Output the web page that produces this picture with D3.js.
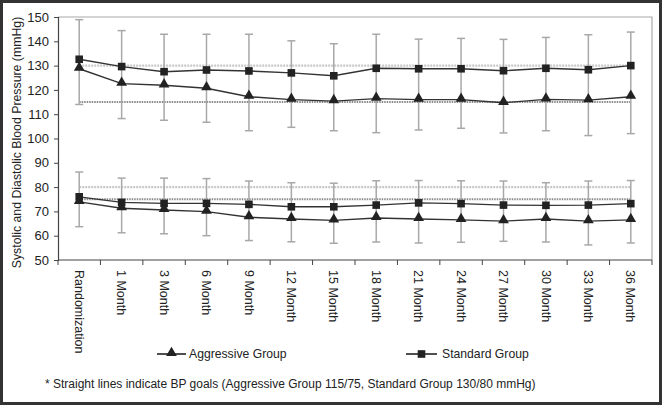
<!DOCTYPE html>
<html><head><meta charset="utf-8">
<script src="https://cdn.jsdelivr.net/npm/d3@7"></script>
<style>body{margin:0;background:#fff}svg{display:block;font-family:"Liberation Sans",Arial,sans-serif}</style>
</head><body>
<svg id="c" width="662" height="405"></svg>
<script>
const categories = ["Randomization","1 Month","3 Month","6 Month","9 Month","12 Month","15 Month","18 Month","21 Month","24 Month","27 Month","30 Month","33 Month","36 Month"];
const yTicks = [50,60,70,80,90,100,110,120,130,140,150];
// Systolic
const stdSys      = [132.6,129.6,127.5,128.2,127.8,127.0,125.8,128.9,128.7,128.7,127.9,128.9,128.3,130.0];
const stdSysUpper = [148.9,144.4,142.9,142.9,142.9,140.2,139.0,142.9,140.9,141.2,140.8,141.6,142.7,143.8];
const aggSys      = [128.7,122.6,121.9,120.7,117.2,116.0,115.4,116.4,116.0,116.0,114.7,116.1,115.8,117.2];
const aggSysLower = [114.0,108.2,107.5,106.7,103.2,104.6,103.2,102.4,103.5,104.2,102.3,103.2,101.2,102.0];
// Diastolic
const stdDia      = [76.0,73.7,73.3,73.3,72.9,71.9,71.9,72.6,73.5,73.2,72.6,72.5,72.6,73.2];
const stdDiaUpper = [86.2,83.7,83.7,83.5,82.5,81.8,81.6,82.6,82.7,82.6,82.5,81.8,82.5,82.7];
const aggDia      = [73.9,71.3,70.6,69.9,67.6,66.9,66.3,67.3,66.9,66.5,66.0,66.9,66.0,66.5];
const aggDiaLower = [63.7,61.2,60.8,60.0,58.0,57.5,56.9,57.4,57.0,57.3,57.7,57.4,56.2,57.0];
// BP goals
const goalsStandard = [130,80];
const goalsAggressive = [115,75];
const legendLabels = ["Aggressive Group","Standard Group"];
const yTitle = "Systolic and Diastolic Blood Pressure (mmHg)";
const footnote = "* Straight lines indicate BP goals (Aggressive Group 115/75, Standard Group 130/80 mmHg)";

const svg = d3.select("#c");
const L=58, R=652, T=17, B=260;
// outer frame
svg.append("rect").attr("x",1.5).attr("y",1.5).attr("width",659).attr("height",402)
  .attr("fill","#fff").attr("stroke","#333").attr("stroke-width",3);

const x = d3.scaleBand().domain(categories).range([L,R]).padding(0);
const cx = d => x(d)+x.bandwidth()/2;
const y = d3.scaleLinear().domain([50,150]).range([B,T]);

// plot border (top/right light)
svg.append("path").attr("d",`M${L},${T}H${R}V${B}`).attr("fill","none").attr("stroke","#aaa").attr("stroke-width",1.2);

// goal lines
const gx0 = cx(categories[0]), gx1 = cx(categories[categories.length-1]);
goalsStandard.forEach(v=>{
  svg.append("line").attr("x1",gx0).attr("x2",gx1).attr("y1",y(v)).attr("y2",y(v))
    .attr("stroke","#c8c8c8").attr("stroke-width",2.2).attr("stroke-dasharray","2,1");
});
goalsAggressive.forEach(v=>{
  svg.append("line").attr("x1",gx0).attr("x2",gx1).attr("y1",y(v)).attr("y2",y(v))
    .attr("stroke","#8a8a8a").attr("stroke-width",2).attr("stroke-dasharray","1.5,1");
});

// error bars
function errBars(lower, upper){
  const g = svg.append("g").attr("stroke","#a8a8a8").attr("stroke-width",1.5);
  categories.forEach((c,i)=>{
    const xx = cx(c);
    g.append("line").attr("x1",xx).attr("x2",xx).attr("y1",y(lower[i])).attr("y2",y(upper[i]));
    g.append("line").attr("x1",xx-4).attr("x2",xx+4).attr("y1",y(lower[i])).attr("y2",y(lower[i]));
    g.append("line").attr("x1",xx-4).attr("x2",xx+4).attr("y1",y(upper[i])).attr("y2",y(upper[i]));
  });
}
errBars(aggSysLower, stdSysUpper);
errBars(aggDiaLower, stdDiaUpper);

// series
const line = d3.line().x((d,i)=>cx(categories[i])).y(d=>y(d));
const tri = d3.symbol().type(d3.symbolTriangle).size(50);
const sq = d3.symbol().type(d3.symbolSquare).size(58);
function series(vals, sym, dy){
  svg.append("path").datum(vals).attr("d",line).attr("fill","none").attr("stroke","#333").attr("stroke-width",1.4);
  svg.append("g").selectAll("path").data(vals).join("path")
    .attr("d",sym).attr("fill","#222")
    .attr("transform",(d,i)=>`translate(${cx(categories[i])},${y(d)+dy})`);
}
series(stdSys, sq, 0);
series(aggSys, tri, -1);
series(stdDia, sq, 0);
series(aggDia, tri, -1);

// y axis
const ya = svg.append("g").attr("transform",`translate(${L},0)`)
  .call(d3.axisLeft(y).tickValues(yTicks).tickSize(4).tickPadding(5));
ya.select(".domain").attr("stroke","#444").attr("stroke-width",1.2);
ya.selectAll(".tick line").attr("stroke","#444");
ya.selectAll("text").attr("font-size",13).attr("fill","#222").attr("font-family","Liberation Sans, Arial, sans-serif");

// x axis: ticks at band boundaries
const xa = svg.append("g").attr("transform",`translate(0,${B})`);
xa.append("line").attr("x1",L).attr("x2",R).attr("stroke","#444").attr("stroke-width",1.2);
d3.range(categories.length+1).forEach(k=>{
  const xx = L + k*x.bandwidth();
  xa.append("line").attr("x1",xx).attr("x2",xx).attr("y1",0).attr("y2",5).attr("stroke","#444");
});
xa.selectAll("text.cat").data(categories).join("text").attr("class","cat")
  .attr("transform",d=>`translate(${cx(d)},10) rotate(90)`)
  .attr("dy","0.35em").attr("font-size",12.5).attr("fill","#222").text(d=>d);

// y title
svg.append("text").attr("transform",`translate(17,${(T+B)/2+4}) rotate(-90)`)
  .attr("text-anchor","middle").attr("dy","0.35em").attr("font-size",12.3).attr("fill","#222").text(yTitle);

// legend
const lg = [{x0:157,x1:186,sym:tri,dy:-1,tx:189},{x0:406,x1:437,sym:sq,dy:0,tx:442}];
lg.forEach((o,i)=>{
  const ly = 354;
  svg.append("line").attr("x1",o.x0).attr("x2",o.x1).attr("y1",ly).attr("y2",ly).attr("stroke","#222").attr("stroke-width",1.6);
  svg.append("path").attr("d",o.sym).attr("fill","#222").attr("transform",`translate(${(o.x0+o.x1)/2},${ly+o.dy})`);
  svg.append("text").attr("x",o.tx).attr("y",ly).attr("dy","0.35em").attr("font-size",12.2).attr("fill","#222").text(legendLabels[i]);
});

// footnote
svg.append("text").attr("x",45).attr("y",384).attr("dy","0.35em").attr("font-size",12).attr("fill","#222").text(footnote);
</script>
</body></html>
